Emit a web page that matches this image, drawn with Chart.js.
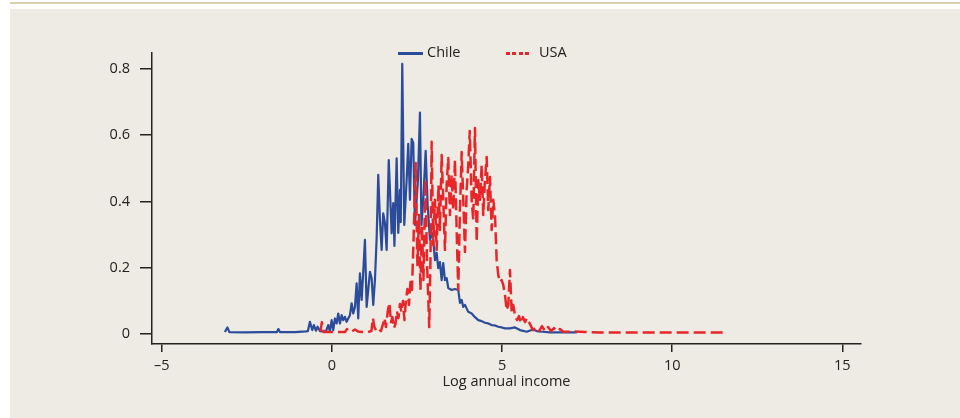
<!DOCTYPE html>
<html>
<head>
<meta charset="utf-8">
<script src="https://cdn.jsdelivr.net/npm/chart.js@4.4.1/dist/chart.umd.min.js"></script>
<style>
  html, body { margin: 0; padding: 0; background: #ffffff; }
  #wrap { position: relative; width: 960px; height: 418px; overflow: hidden; font-family: "Open Sans", sans-serif; }
  #topLine { position: absolute; left: 10px; right: 0; top: 2px; height: 2px; background: #d6cfb2; }
  #panel { position: absolute; left: 10px; right: 0; top: 9px; bottom: 0; background: #eeebe4; }
  #chart { position: absolute; left: 0; top: 0; }
  .lg { position: absolute; top: 43px; font-size: 14.5px; color: #222; line-height: 18px; }
  .lgSolid { position: absolute; top: 52px; height: 2.5px; background: #2b4b9b; }
  .lgDash { position: absolute; top: 52px; height: 2.5px;
    background: repeating-linear-gradient(to right, #e8262a 0 4px, transparent 4px 6.5px); }
</style>
</head>
<body>
<div id="wrap">
  <div id="topLine"></div>
  <div id="panel"></div>
  <canvas id="chart" width="960" height="418"></canvas>
  <div class="lgSolid" style="left:398px;width:25px"></div>
  <div class="lg" id="lgChile" style="left:427px"></div>
  <div class="lgDash" style="left:506px;width:25px"></div>
  <div class="lg" id="lgUsa" style="left:539px"></div>
</div>
<script>
// Chile: log annual income vs density
const chileX = [-3.148, -3.074, -3.015, -2.560, -2.060, -1.619, -1.575, -1.530, -1.089, -0.766,
  -0.707, -0.648, -0.581, -0.531, -0.472, -0.422, -0.354, -0.266, -0.178, -0.110,
  -0.060, -0.010, 0.037, 0.087, 0.137, 0.184, 0.234, 0.284, 0.331, 0.381,
  0.431, 0.478, 0.528, 0.578, 0.625, 0.675, 0.725, 0.772, 0.822, 0.872,
  0.919, 0.969, 1.019, 1.066, 1.116, 1.166, 1.213, 1.263, 1.313, 1.360,
  1.410, 1.460, 1.507, 1.557, 1.607, 1.669, 1.704, 1.754, 1.801, 1.836,
  1.901, 1.948, 1.998, 2.022, 2.066, 2.125, 2.195, 2.242, 2.292, 2.342,
  2.389, 2.439, 2.527, 2.586, 2.630, 2.683, 2.754, 2.812, 2.880, 2.930,
  2.977, 3.027, 3.077, 3.124, 3.174, 3.224, 3.271, 3.321, 3.371, 3.418,
  3.518, 3.615, 3.712, 3.762, 3.812, 3.859, 3.909, 4.006, 4.106, 4.203,
  4.301, 4.401, 4.497, 4.594, 4.694, 4.791, 4.888, 4.988, 5.085, 5.232,
  5.379, 5.526, 5.723, 5.909, 6.056, 6.203, 6.408, 6.605, 6.850, 7.194];
const chileY = [0.006, 0.020, 0.006, 0.005, 0.006, 0.006, 0.015, 0.006, 0.006, 0.008,
  0.009, 0.037, 0.012, 0.027, 0.010, 0.022, 0.009, 0.008, 0.008, 0.027,
  0.008, 0.042, 0.012, 0.047, 0.032, 0.062, 0.032, 0.057, 0.042, 0.052,
  0.037, 0.047, 0.057, 0.093, 0.062, 0.082, 0.153, 0.047, 0.183, 0.103,
  0.188, 0.284, 0.082, 0.133, 0.188, 0.168, 0.088, 0.163, 0.289, 0.480,
  0.344, 0.254, 0.364, 0.335, 0.254, 0.525, 0.435, 0.304, 0.395, 0.266,
  0.530, 0.305, 0.435, 0.338, 0.815, 0.329, 0.465, 0.574, 0.405, 0.589,
  0.577, 0.329, 0.465, 0.668, 0.329, 0.405, 0.553, 0.389, 0.284, 0.308,
  0.284, 0.223, 0.245, 0.199, 0.217, 0.163, 0.214, 0.163, 0.169, 0.139,
  0.133, 0.136, 0.133, 0.094, 0.103, 0.082, 0.088, 0.067, 0.062, 0.051,
  0.042, 0.039, 0.034, 0.032, 0.027, 0.026, 0.022, 0.020, 0.017, 0.017,
  0.020, 0.012, 0.007, 0.014, 0.008, 0.007, 0.005, 0.005, 0.005, 0.005];

// USA
const usaX = [-0.340, -0.296, -0.251, -0.060, 0.175, 0.381, 0.440, 0.498, 0.587, 0.675,
  0.763, 0.881, 1.057, 1.160, 1.204, 1.248, 1.307, 1.380, 1.439, 1.498,
  1.542, 1.586, 1.645, 1.689, 1.733, 1.777, 1.822, 1.866, 1.910, 1.954,
  1.998, 2.042, 2.086, 2.130, 2.174, 2.218, 2.263, 2.307, 2.351, 2.389,
  2.462, 2.512, 2.557, 2.601, 2.645, 2.689, 2.748, 2.792, 2.859, 2.895,
  2.930, 2.977, 3.027, 3.077, 3.130, 3.174, 3.224, 3.271, 3.321, 3.371,
  3.418, 3.468, 3.518, 3.565, 3.615, 3.665, 3.712, 3.762, 3.812, 3.859,
  3.909, 3.959, 4.006, 4.050, 4.106, 4.153, 4.203, 4.253, 4.300, 4.350,
  4.400, 4.447, 4.497, 4.547, 4.594, 4.644, 4.694, 4.741, 4.791, 4.841,
  4.888, 4.938, 4.988, 5.035, 5.085, 5.135, 5.182, 5.232, 5.282, 5.329,
  5.379, 5.438, 5.497, 5.556, 5.614, 5.673, 5.732, 5.820, 5.909, 5.997,
  6.085, 6.173, 6.261, 6.350, 6.438, 6.526, 6.614, 6.702, 6.791, 6.908,
  7.143, 7.437, 7.878, 9.349, 11.525];
const usaY = [0.008, 0.036, 0.006, 0.006, 0.006, 0.006, 0.015, 0.008, 0.008, 0.014,
  0.008, 0.006, 0.006, 0.009, 0.048, 0.021, 0.009, 0.015, 0.009, 0.030,
  0.048, 0.021, 0.072, 0.094, 0.036, 0.051, 0.018, 0.030, 0.069, 0.048,
  0.091, 0.066, 0.100, 0.042, 0.103, 0.136, 0.088, 0.157, 0.133, 0.254,
  0.516, 0.208, 0.359, 0.133, 0.329, 0.163, 0.465, 0.223, 0.021, 0.223,
  0.580, 0.269, 0.405, 0.254, 0.450, 0.314, 0.540, 0.405, 0.254, 0.450,
  0.531, 0.359, 0.480, 0.374, 0.525, 0.314, 0.133, 0.374, 0.549, 0.405,
  0.248, 0.435, 0.510, 0.613, 0.405, 0.344, 0.622, 0.278, 0.465, 0.405,
  0.510, 0.359, 0.465, 0.534, 0.374, 0.474, 0.314, 0.405, 0.359, 0.223,
  0.178, 0.157, 0.163, 0.148, 0.118, 0.072, 0.088, 0.193, 0.066, 0.088,
  0.057, 0.042, 0.054, 0.033, 0.051, 0.036, 0.048, 0.030, 0.012, 0.021,
  0.009, 0.024, 0.009, 0.021, 0.009, 0.018, 0.008, 0.015, 0.008, 0.007,
  0.008, 0.006, 0.005, 0.005, 0.005];

const seriesNames = ["Chile", "USA"];
const xTicks = [-5, 0, 5, 10, 15];
const xTickLabels = ["\u20135", "0", "5", "10", "15"];
const yTicks = [0, 0.2, 0.4, 0.6, 0.8];
const yTickLabels = ["0", "0.2", "0.4", "0.6", "0.8"];
const xTitle = "Log annual income";

function toPoints(xs, ys) {
  return xs.map((x, i) => ({ x: x, y: ys[i] }));
}

document.getElementById("lgChile").textContent = seriesNames[0];
document.getElementById("lgUsa").textContent = seriesNames[1];

const axisColor = "#222";
const font = { family: "'Open Sans', sans-serif", size: 14.5 };

new Chart(document.getElementById("chart"), {
  type: "line",
  data: {
    datasets: [
      {
        label: seriesNames[0],
        data: toPoints(chileX, chileY),
        borderColor: "#2b4b9b",
        borderWidth: 2.2,
        borderJoinStyle: "round",
        pointRadius: 0,
        tension: 0,
        order: 1
      },
      {
        label: seriesNames[1],
        data: toPoints(usaX, usaY),
        borderColor: "#e8262a",
        borderWidth: 2.5,
        borderDash: [12, 5],
        borderJoinStyle: "round",
        pointRadius: 0,
        tension: 0,
        order: 0
      }
    ]
  },
  options: {
    responsive: false,
    animation: false,
    layout: { padding: { left: 0, right: 99, top: 53, bottom: 0 } },
    plugins: { legend: { display: false }, tooltip: { enabled: false } },
    scales: {
      x: {
        type: "linear",
        min: -5.29,
        max: 15.55,
        afterBuildTicks: (s) => { s.ticks = xTicks.map((v) => ({ value: v })); },
        afterFit: (s) => { s.height = 74; },
        border: { display: true, color: axisColor, width: 1.5 },
        grid: { drawOnChartArea: false, tickLength: 8, color: axisColor, lineWidth: 1.5 },
        ticks: {
          autoSkip: false,
          maxRotation: 0,
          padding: 5,
          color: axisColor,
          font: font,
          callback: (v) => xTickLabels[xTicks.indexOf(v)]
        },
        title: {
          display: true,
          text: xTitle,
          color: axisColor,
          font: font,
          padding: { top: 0, bottom: 27 }
        }
      },
      y: {
        type: "linear",
        min: -0.030,
        max: 0.848,
        afterBuildTicks: (s) => { s.ticks = yTicks.map((v) => ({ value: v })); },
        afterFit: (s) => { s.width = 152; },
        border: { display: true, color: axisColor, width: 1.5 },
        grid: { drawOnChartArea: false, tickLength: 12, color: axisColor, lineWidth: 1.5 },
        ticks: {
          padding: 10,
          color: axisColor,
          font: font,
          callback: (v) => yTickLabels[yTicks.indexOf(v)]
        }
      }
    }
  }
});
</script>
</body>
</html>
